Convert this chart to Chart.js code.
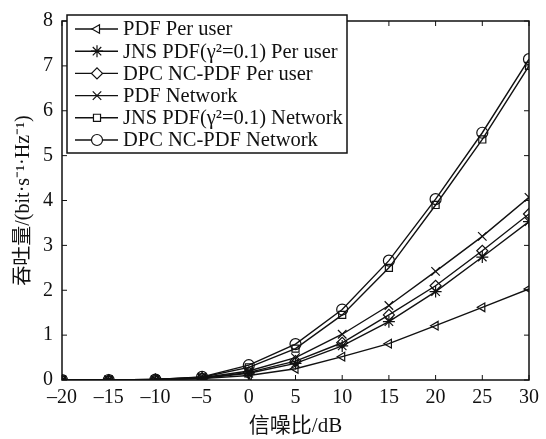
<!DOCTYPE html>
<html>
<head>
<meta charset="utf-8">
<script src="https://cdn.jsdelivr.net/npm/chart.js@4/dist/chart.umd.min.js"></script>
<style>
  html, body { margin: 0; padding: 0; background: #fff; }
  #wrap { width: 546px; height: 439px; }
</style>
</head>
<body>
<div id="wrap"><canvas id="thruput"></canvas></div>
<script>
  // SNR in dB
  var snr = [-20, -15, -10, -5, 0, 5, 10, 15, 20, 25, 30]

  var pdfUser    = [0, 0, 0.01, 0.03, 0.1, 0.25, 0.52, 0.81, 1.21, 1.62, 2.03]
  var jnsUser    = [0, 0, 0.01, 0.04, 0.15, 0.37, 0.76, 1.3, 1.97, 2.74, 3.53]
  var dpcUser    = [0, 0, 0.01, 0.04, 0.17, 0.42, 0.83, 1.45, 2.1, 2.88, 3.7]
  var pdfNet     = [0, 0, 0.01, 0.05, 0.2, 0.5, 1.02, 1.66, 2.42, 3.2, 4.07]
  var jnsNet     = [0, 0, 0.01, 0.06, 0.28, 0.7, 1.45, 2.5, 3.9, 5.36, 7.0]
  var dpcNet     = [0, 0, 0.01, 0.07, 0.33, 0.8, 1.57, 2.66, 4.03, 5.51, 7.15]

  var yTicks = [0, 1, 2, 3, 4, 5, 6, 7, 8]

  var serif = "'Liberation Serif', 'Times New Roman', 'Noto Sans CJK SC', serif"

  function series(label, data, style, radius, rot) {
    return {
      label: label,
      data: snr.map(function(x, i) { return {x: x, y: data[i]} }),
      borderColor: '#111',
      borderWidth: 1.4,
      backgroundColor: 'rgba(0,0,0,0)',
      pointStyle: style,
      pointRadius: radius,
      pointRotation: rot || 0,
      pointBorderColor: '#111',
      pointBorderWidth: 1.2,
      pointBackgroundColor: 'rgba(0,0,0,0)',
      tension: 0
    }
  }

  // box round the plot, inward ticks, legend inside the plot
  var framePlugin = {
    id: 'frame',
    afterDraw: function(chart) {
      var ctx = chart.ctx, a = chart.chartArea
      var xs = chart.scales.x, ys = chart.scales.y
      ctx.save()
      ctx.strokeStyle = '#111'
      ctx.lineWidth = 1.5
      ctx.strokeRect(a.left, a.top, a.right - a.left, a.bottom - a.top)
      ctx.lineWidth = 1
      snr.forEach(function(v) {
        if (v % 5) return
        var px = xs.getPixelForValue(v)
        ctx.beginPath()
        ctx.moveTo(px, a.bottom); ctx.lineTo(px, a.bottom - 5)
        ctx.moveTo(px, a.top); ctx.lineTo(px, a.top + 5)
        ctx.stroke()
      })
      yTicks.forEach(function(v) {
        var py = ys.getPixelForValue(v)
        ctx.beginPath()
        ctx.moveTo(a.left, py); ctx.lineTo(a.left + 5, py)
        ctx.moveTo(a.right, py); ctx.lineTo(a.right - 5, py)
        ctx.stroke()
      })

      // legend
      var bx = 67, by = 15, bw = 280, bh = 138
      ctx.fillStyle = '#fff'
      ctx.fillRect(bx, by, bw, bh)
      ctx.lineWidth = 1.5
      ctx.strokeRect(bx, by, bw, bh)
      ctx.font = '20.5px ' + serif
      ctx.textBaseline = 'middle'
      chart.data.datasets.forEach(function(ds, i) {
        var y = by + 14 + i * 22.2
        ctx.strokeStyle = '#111'
        ctx.lineWidth = 1.4
        ctx.beginPath()
        ctx.moveTo(bx + 8, y); ctx.lineTo(bx + 51, y)
        ctx.stroke()
        ctx.lineWidth = 1.2
        ctx.fillStyle = '#fff'
        Chart.helpers.drawPoint(ctx, {
          pointStyle: ds.pointStyle, rotation: ds.pointRotation,
          radius: ds.pointRadius, borderWidth: 1.2
        }, bx + 30, y)
        ctx.fillStyle = '#111'
        ctx.fillText(ds.label, bx + 56, y + 1)
      })
      ctx.restore()
    }
  }

  var ctx = document.getElementById('thruput').getContext('2d')

  var chartData = {
    type: 'line',
    data: {
      datasets: [
        series('PDF Per user', pdfUser, 'triangle', 5, -90),
        series('JNS PDF(γ²=0.1) Per user', jnsUser, 'star', 6),
        series('DPC NC-PDF Per user', dpcUser, 'rectRot', 5.5),
        series('PDF Network', pdfNet, 'crossRot', 6),
        series('JNS PDF(γ²=0.1) Network', jnsNet, 'rect', 5),
        series('DPC NC-PDF Network', dpcNet, 'circle', 5.5)
      ]
    },
    options: {
      responsive: true,
      maintainAspectRatio: false,
      animation: false,
      layout: { padding: { top: 13, right: 17, left: 0, bottom: 0 } },
      plugins: { legend: { display: false }, tooltip: { enabled: false } },
      scales: {
        x: {
          type: 'linear',
          min: -20, max: 30,
          afterBuildTicks: function(s) { s.ticks = snr.filter(function(v) { return v % 5 === 0 }).map(function(v) { return {value: v} }) },
          afterFit: function(s) { s.height = 59 },
          grid: { display: false, drawTicks: false },
          border: { display: false },
          ticks: {
            color: '#111', padding: 6, maxRotation: 0,
            font: { family: serif, size: 20 },
            callback: function(v) { return v < 0 ? '\u2013' + Math.abs(v) : '' + v }
          },
          title: {
            display: true, text: '信噪比/dB', color: '#111',
            font: { family: serif, size: 21 }, padding: { top: 0, bottom: 0 }
          }
        },
        y: {
          min: 0, max: 8,
          afterBuildTicks: function(s) { s.ticks = yTicks.map(function(v) { return {value: v} }) },
          afterFit: function(s) { s.width = 62 },
          grid: { display: false, drawTicks: false },
          border: { display: false },
          ticks: { color: '#111', padding: 9, font: { family: serif, size: 20 } },
          title: {
            display: true, text: '吞吐量/(bit·s⁻¹·Hz⁻¹)', color: '#111',
            font: { family: serif, size: 20 }, padding: { top: 12, bottom: 0 }
          }
        }
      }
    },
    plugins: [framePlugin]
  }

  var thruputChart = new Chart(ctx, chartData)
</script>
</body>
</html>
